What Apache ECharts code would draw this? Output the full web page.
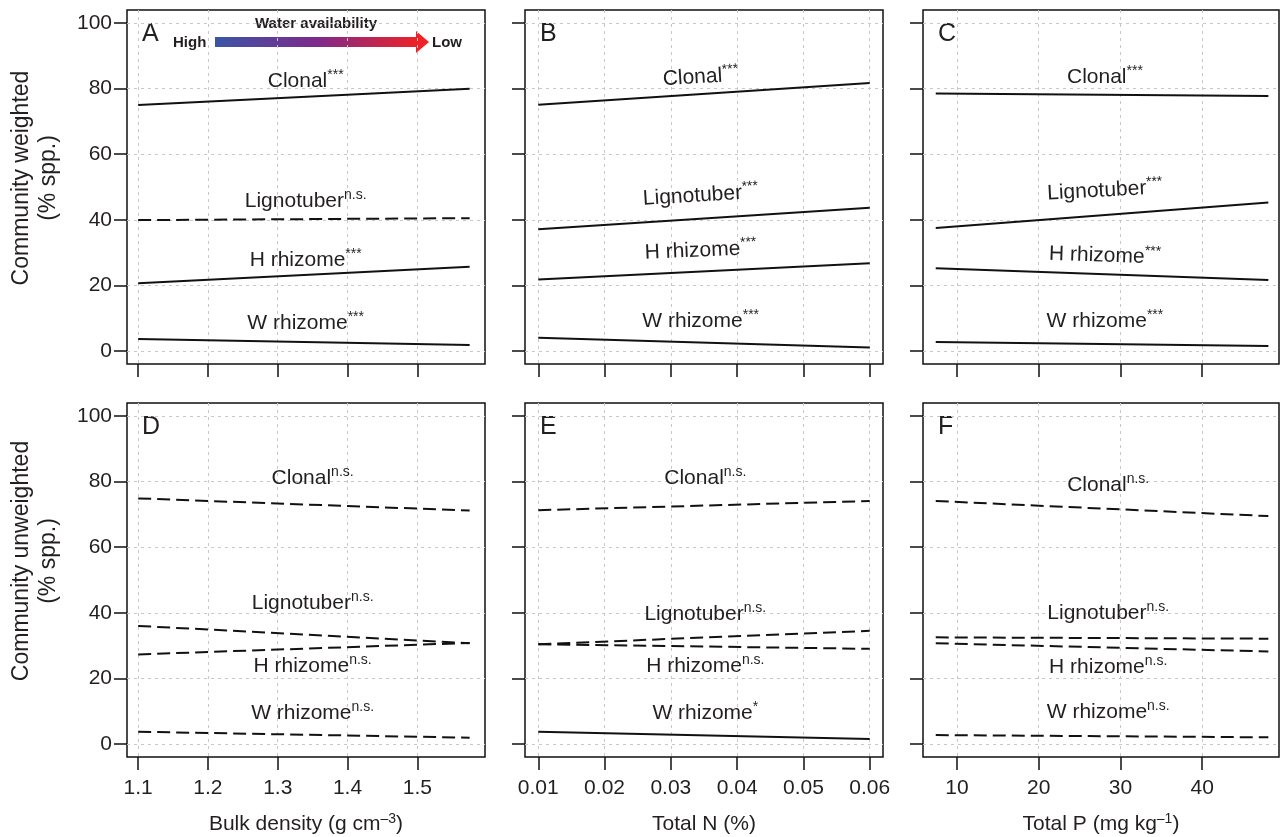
<!DOCTYPE html>
<html>
<head>
<meta charset="utf-8">
<script src="https://cdn.jsdelivr.net/npm/echarts@6/dist/echarts.min.js"></script>
<style>
  html, body { margin: 0; padding: 0; background: #fff; }
  #chart { width: 1281px; height: 837px; }
</style>
</head>
<body>
<div id="chart"></div>
<script>
// panels A..F, row 1 = community weighted, row 2 = unweighted
const panelLetters = ['A', 'B', 'C', 'D', 'E', 'F'];
const xNames = ['Bulk density (g cm', 'Total N (%)', 'Total P (mg kg'];
const xNameSup = ['–3', '', '–1'];
const yNames = ['Community weighted\n(% spp.)', 'Community unweighted\n(% spp.)'];
const xTicks = [
  [1.1, 1.2, 1.3, 1.4, 1.5],
  [0.01, 0.02, 0.03, 0.04, 0.05, 0.06],
  [10, 20, 30, 40]
];
const xLimits = [[1.084, 1.597], [0.008, 0.062], [5.84, 49.4]];
const xFit = [[1.1, 1.575], [0.01, 0.06], [7.4, 48.1]];
const yTicks = [0, 20, 40, 60, 80, 100];

// fitted line end values (left, right) for each panel A..F
const clonal     = [[75.0, 80.0], [75.1, 81.7], [78.5, 77.8], [74.9, 71.2], [71.3, 74.1], [74.1, 69.5]];
const lignotuber = [[39.9, 40.5], [37.1, 43.7], [37.5, 45.3], [36.0, 30.7], [30.4, 34.5], [32.5, 32.1]];
const hRhizome   = [[20.6, 25.7], [21.8, 26.7], [25.2, 21.6], [27.3, 30.8], [30.4, 29.0], [30.7, 28.2]];
const wRhizome   = [[3.6, 1.8], [4.0, 1.0], [2.7, 1.5], [3.7, 1.9], [3.7, 1.5], [2.7, 2.0]];

const clonalSig = ['***', '***', '***', 'n.s.', 'n.s.', 'n.s.'];
const lignoSig  = ['n.s.', '***', '***', 'n.s.', 'n.s.', 'n.s.'];
const hRhizSig  = ['***', '***', '***', 'n.s.', 'n.s.', 'n.s.'];
const wRhizSig  = ['***', '***', '***', 'n.s.', '*', 'n.s.'];

// label anchors
const labelX = [1.34, 0.0345, 28.1, 1.35, 0.0352, 28.5];
const clonalLabY = [82.2, 83.5, 83.5, 81.0, 81.0, 79.0];
const lignoLabY  = [45.6, 47.4, 48.9, 42.8, 39.6, 39.8];
const hRhizLabY  = [27.8, 30.6, 29.0, 23.7, 23.7, 23.3];
const wRhizLabY  = [8.4, 9.2, 9.2, 9.3, 9.3, 9.6];
const clonalRot = [0, 3.5, 0, 0, 0, 0];
const lignoRot  = [0, 3.5, 3, 0, 0, 0];
const hRhizRot  = [0, 2.5, -2, 0, 0, 0];
const wRhizRot  = [0, 0, 0, 0, 0, 0];

const traits = [
  { name: 'Clonal', y: clonal, sig: clonalSig, ly: clonalLabY, rot: clonalRot },
  { name: 'Lignotuber', y: lignotuber, sig: lignoSig, ly: lignoLabY, rot: lignoRot },
  { name: 'H rhizome', y: hRhizome, sig: hRhizSig, ly: hRhizLabY, rot: hRhizRot },
  { name: 'W rhizome', y: wRhizome, sig: wRhizSig, ly: wRhizLabY, rot: wRhizRot }
];

const FONT = '"Liberation Sans", Arial, Helvetica, sans-serif';
const INK = '#231f20';
const gridLefts = [127, 525, 923];
const gridWidths = [358, 358, 356];
const gridTops = [10, 403];
const gridH = 354;

let grids = [], xAxes = [], yAxes = [], series = [], graphics = [];

for (let p = 0; p < 6; p++) {
  const col = p % 3, row = Math.floor(p / 3);
  const bottom = row === 1, left = col === 0;
  grids.push({
    left: gridLefts[col], top: gridTops[row], width: gridWidths[col], height: gridH,
    show: true, borderColor: '#111', borderWidth: 1.5, backgroundColor: 'transparent'
  });
  const dec = col === 0 ? 1 : (col === 1 ? 2 : 0);
  xAxes.push({
    gridIndex: p, type: 'value', min: xLimits[col][0], max: xLimits[col][1],
    axisLine: { show: false, onZero: false },
    axisTick: { show: true, length: 13, customValues: xTicks[col], lineStyle: { color: '#111', width: 1.5 } },
    axisLabel: {
      show: bottom, customValues: xTicks[col], margin: 21, fontSize: 21, color: INK, fontFamily: FONT,
      formatter: v => Number(v).toFixed(dec)
    },
    splitLine: { show: true, lineStyle: { color: '#c8c8c8', type: [3, 4], width: 1 } },
    name: bottom ? '{t|' + xNames[col] + '}' + (xNameSup[col] ? '{s|' + xNameSup[col] + '}{t|)}' : '') : '',
    nameLocation: 'middle', nameGap: 55,
    nameTextStyle: {
      fontFamily: FONT, color: INK,
      rich: {
        t: { fontSize: 21, lineHeight: 25, fontFamily: FONT, color: INK },
        s: { fontSize: 14, lineHeight: 14, verticalAlign: 'top', fontFamily: FONT, color: INK }
      }
    }
  });
  yAxes.push({
    gridIndex: p, type: 'value', min: -4, max: 104,
    axisLine: { show: false, onZero: false },
    axisTick: { show: true, length: 13, customValues: yTicks, lineStyle: { color: '#111', width: 1.5 } },
    axisLabel: { show: left, customValues: yTicks, margin: 15, fontSize: 21, color: INK, fontFamily: FONT },
    splitLine: { show: true, lineStyle: { color: '#c8c8c8', type: [3, 4], width: 1 } }
  });

  traits.forEach(t => {
    const ns = t.sig[p] === 'n.s.';
    series.push({
      type: 'line', xAxisIndex: p, yAxisIndex: p, showSymbol: false, silent: true,
      data: [[xFit[col][0], t.y[p][0]], [xFit[col][1], t.y[p][1]]],
      lineStyle: { color: '#111', width: 2, type: ns ? [13, 6] : 'solid' }
    });
  });

  series.push({
    type: 'scatter', xAxisIndex: p, yAxisIndex: p, symbolSize: 0, silent: true,
    itemStyle: { opacity: 1 },
    data: traits.map(t => ({
      value: [labelX[p], t.ly[p]],
      label: { rotate: t.rot[p], formatter: '{n|' + t.name + '}{s|' + t.sig[p] + '}' }
    })),
    label: {
      show: true, position: 'inside', align: 'center', verticalAlign: 'middle', opacity: 1,
      color: INK, textBorderWidth: 0, textBorderColor: 'transparent',
      rich: {
        n: { fontSize: 21, lineHeight: 26, fontFamily: FONT, color: INK, textBorderWidth: 0 },
        s: { fontSize: 14, lineHeight: 14, verticalAlign: 'top', fontFamily: FONT, color: INK, textBorderWidth: 0 }
      }
    }
  });

  graphics.push({
    type: 'text', left: gridLefts[col] + 15, top: gridTops[row] + 12,
    style: { text: panelLetters[p], fontSize: 25, fontFamily: FONT, fill: INK }
  });
}

// y axis titles
[178, 561].forEach((cy, i) => {
  graphics.push({
    type: 'text', x: 35, y: cy, rotation: Math.PI / 2,
    style: { text: yNames[i], fontSize: 23, lineHeight: 27, fontFamily: FONT, fill: INK, align: 'center', verticalAlign: 'middle' }
  });
});

// water availability arrow in panel A
graphics.push(
  { type: 'rect', shape: { x: 215, y: 37, width: 203, height: 10 },
    style: { fill: new echarts.graphic.LinearGradient(0, 0, 1, 0, [
      { offset: 0, color: '#3a55a5' }, { offset: 0.5, color: '#7d2a8c' }, { offset: 1, color: '#ee2227' }]) } },
  { type: 'polygon', shape: { points: [[416, 31], [429, 42], [416, 53]] }, style: { fill: '#ee2227' } },
  { type: 'text', x: 173, y: 43, style: { text: 'High', fontSize: 15, fontWeight: 'bold', fontFamily: FONT, fill: INK, verticalAlign: 'middle' } },
  { type: 'text', x: 432, y: 43, style: { text: 'Low', fontSize: 15, fontWeight: 'bold', fontFamily: FONT, fill: INK, verticalAlign: 'middle' } },
  { type: 'text', x: 316, y: 24, style: { text: 'Water availability', fontSize: 15, fontWeight: 'bold', fontFamily: FONT, fill: INK, align: 'center', verticalAlign: 'middle' } }
);

const chart = echarts.init(document.getElementById('chart'));
chart.setOption({
  animation: false,
  grid: grids,
  xAxis: xAxes,
  yAxis: yAxes,
  series: series,
  graphic: graphics
});
</script>
</body>
</html>
